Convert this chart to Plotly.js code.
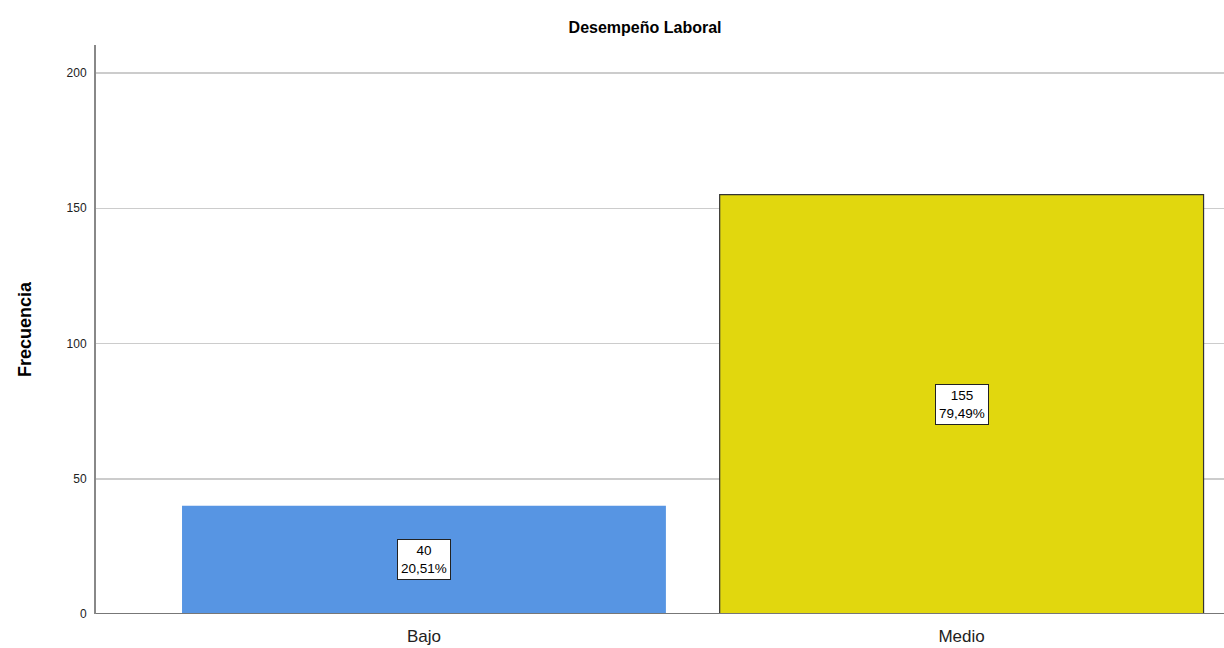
<!DOCTYPE html>
<html>
<head>
<meta charset="utf-8">
<script src="https://cdn.plot.ly/plotly-3.0.1.min.js"></script>
<style>html,body{margin:0;padding:0;background:#fff;}#chart{width:1224px;height:648px;}</style>
</head>
<body>
<div id="chart"></div>
<script>
const categories = ["Bajo", "Medio"];
const counts = [40, 155];
const percentLabels = ["20,51%", "79,49%"];
const barColors = ["#5795E3", "#E1D70E"];
const barEdgeColors = ["rgba(0,0,0,0)", "#333333"];
const yTicks = [0, 50, 100, 150, 200];

const trace = {
  type: "bar",
  x: categories,
  y: counts,
  width: 0.9,
  marker: {color: barColors, line: {color: barEdgeColors, width: 1.2}},
  hoverinfo: "none"
};

const annotations = categories.map((c, i) => ({
  x: c, y: counts[i] / 2, xref: "x", yref: "y",
  text: counts[i] + "<br>" + percentLabels[i],
  showarrow: false,
  bgcolor: "#ffffff", bordercolor: "#222222", borderwidth: 1, borderpad: 3,
  font: {family: "Liberation Sans, Arial, sans-serif", size: 13.5, color: "#000"}
}));

const layout = {
  width: 1224, height: 648,
  margin: {l: 96, r: 0, t: 45, b: 34},
  paper_bgcolor: "#fff", plot_bgcolor: "#fff",
  title: {text: "<b>Desempeño Laboral</b>", x: 0.527, xanchor: "center", y: 0.958, yanchor: "middle",
          font: {family: "Liberation Sans, Arial, sans-serif", size: 16, color: "#000"}},
  showlegend: false,
  xaxis: {
    range: [-0.61, 1.488], showgrid: false, zeroline: false,
    showline: false, ticks: "", ticklabelstandoff: 10,
    tickfont: {family: "Liberation Sans, Arial, sans-serif", size: 17, color: "#222"},
    fixedrange: true
  },
  yaxis: {
    range: [0, 210.35], tickvals: yTicks, ticktext: yTicks.map(String),
    showgrid: true, gridcolor: "#cccccc", gridwidth: 1.5,
    zeroline: false, showline: true, linecolor: "#888888", linewidth: 2,
    ticks: "", ticklen: 0, ticklabelstandoff: 5,
    tickfont: {family: "Liberation Sans, Arial, sans-serif", size: 12, color: "#222"},
    title: {text: "<b>Frecuencia</b>", standoff: 30,
            font: {family: "Liberation Sans, Arial, sans-serif", size: 18, color: "#000"}},
    fixedrange: true
  },
  shapes: [{type: "line", xref: "paper", yref: "y", x0: 0, x1: 1, y0: 0, y1: 0,
            line: {color: "#777777", width: 2}}],
  annotations: annotations
};

Plotly.newPlot("chart", [trace], layout, {displayModeBar: false, staticPlot: true});
</script>
</body>
</html>
